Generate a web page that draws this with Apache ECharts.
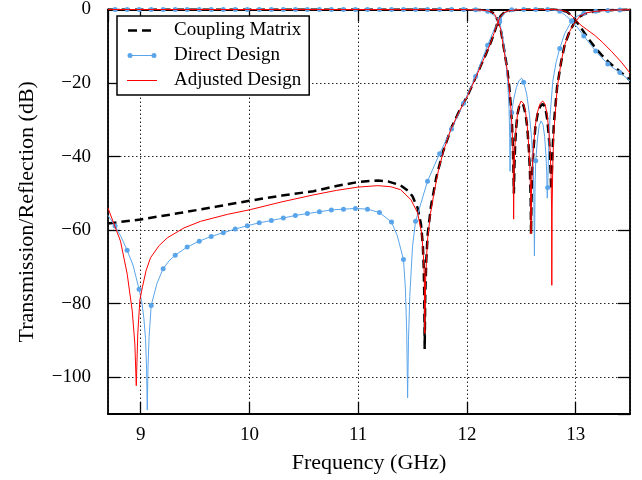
<!DOCTYPE html>
<html>
<head>
<meta charset="utf-8">
<script src="https://cdn.jsdelivr.net/npm/echarts@6/dist/echarts.min.js"></script>
<style>html,body{margin:0;padding:0;background:#fff}#c{width:642px;height:480px}</style>
</head>
<body>
<div id="c"></div>
<script>
// ---- data: [frequency GHz, dB] ----
const legendNames = ['Coupling Matrix', 'Direct Design', 'Adjusted Design'];

// Coupling matrix (black dashed)
const cmS21 = [[8.70,-58.2],[9.0,-57.1],[9.37,-55.3],[9.7,-53.6],[10.0,-52.0],[10.3,-50.6],[10.59,-49.4],[10.8,-48.0],[11.0,-46.9],[11.18,-46.5],[11.28,-46.8],[11.39,-47.8],[11.46,-49.3],[11.50,-50.8],[11.547,-54],[11.578,-58.4],[11.595,-64],[11.603,-70],[11.608,-77],[11.612,-92.3],[11.617,-78],[11.627,-68],[11.64,-61],[11.67,-53.5],[11.72,-45.5],[11.777,-39],[11.854,-32.4],[11.93,-27.6],[12.008,-23.3],[12.07,-19.2],[12.13,-15.1],[12.18,-11.8],[12.222,-8.8],[12.255,-6.0],[12.285,-3.3],[12.31,-1.8],[12.34,-0.9],[12.38,-0.4],[12.45,-0.1],[12.5,0],[12.8,0],[12.867,-0.2],[12.92,-0.6],[12.945,-1.2],[12.975,-2.0],[13.0,-3.0],[13.04,-4.6],[13.08,-6.3],[13.13,-8.4],[13.18,-10.4],[13.24,-12.4],[13.3,-14.2],[13.36,-15.7],[13.41,-16.9],[13.46,-18.2],[13.5,-19.2]];
const cmS11 = [[8.70,0],[12.0,-0.02],[12.13,-0.13],[12.18,-0.3],[12.222,-0.6],[12.255,-1.2],[12.285,-3.0],[12.31,-5.2],[12.343,-11.0],[12.37,-16.0],[12.39,-21.0],[12.405,-26.5],[12.415,-31.5],[12.423,-37.5],[12.428,-43],[12.432,-50],[12.437,-43],[12.443,-37.5],[12.452,-32.5],[12.465,-28.5],[12.48,-26.5],[12.5,-25.5],[12.52,-26],[12.54,-28.5],[12.555,-32],[12.57,-38],[12.58,-44],[12.587,-52],[12.59,-61],[12.594,-52],[12.60,-45],[12.612,-38],[12.63,-32],[12.65,-28.5],[12.675,-26.3],[12.698,-25.7],[12.72,-26.5],[12.74,-30],[12.755,-35],[12.765,-40.5],[12.772,-46],[12.775,-49],[12.779,-46],[12.787,-39],[12.8,-31],[12.83,-21],[12.867,-14.2],[12.9,-9.5],[12.943,-6.1],[12.975,-4.3],[13.0,-3.1],[13.04,-1.9],[13.08,-1.2],[13.13,-0.8],[13.2,-0.45],[13.3,-0.22],[13.4,-0.12],[13.5,-0.08]];

// Direct design (blue, markers)
const ddS21Marks = [[8.765,-58.9],[8.876,-65.5],[8.986,-76.1],[9.097,-80.5],[9.207,-70.5],[9.318,-66.8],[9.428,-64.6],[9.539,-63.0],[9.649,-61.7],[9.760,-60.7],[9.870,-59.7],[9.981,-58.8],[10.091,-58.0],[10.202,-57.4],[10.312,-56.7],[10.423,-56.0],[10.533,-55.5],[10.644,-55.0],[10.754,-54.5],[10.865,-54.3],[10.975,-54.1],[11.086,-54.3],[11.196,-55.2],[11.307,-57.8],[11.417,-68.0],[11.528,-57.6],[11.638,-46.7],[11.749,-39.2],[11.859,-32.5],[11.970,-25.5],[12.080,-18.2],[12.191,-9.7],[12.301,-2.8],[12.412,-0.1],[12.522,0],[12.633,0],[12.743,0],[12.854,-0.5],[12.964,-3.1],[13.075,-7.2],[13.185,-11.3],[13.296,-14.8],[13.406,-17.1]];
const ddS21Line = [[8.70,-56.0],[8.82,-61.8],[8.93,-69.5],[9.01,-79.4],[9.03,-84],[9.045,-89.5],[9.055,-98],[9.061,-108.9],[9.068,-97],[9.078,-89],[9.15,-74.5],[9.26,-68.4],[11.36,-61.5],[11.435,-76],[11.447,-88],[11.455,-105.6],[11.463,-90],[11.475,-78],[11.50,-64.5],[12.25,-5.5],[12.35,-0.9],[12.80,-0.2],[12.90,-1.4],[13.02,-5.0],[13.13,-9.3],[13.24,-13.1],[13.35,-16.0],[13.5,-19.4]];
const ddS11Marks = [[8.765,0],[8.876,0],[8.986,0],[9.097,0],[9.207,0],[9.318,0],[9.428,0],[9.539,0],[9.649,0],[9.760,0],[9.870,0],[9.981,0],[10.091,0],[10.202,0],[10.312,0],[10.423,0],[10.533,0],[10.644,0],[10.754,0],[10.865,0],[10.975,0],[11.086,0],[11.196,0],[11.307,0],[11.417,0],[11.528,0],[11.638,0],[11.749,0],[11.859,0],[11.970,0],[12.080,-0.1],[12.191,-0.5],[12.301,-3.3],[12.412,-28],[12.522,-19.8],[12.633,-41.1],[12.743,-48.4],[12.854,-10.6],[12.964,-3.1],[13.075,-1.0],[13.185,-0.5],[13.296,-0.25],[13.406,-0.15]];
const ddS11Line = [[8.70,0],[12.25,-1.6],[12.33,-7.5],[12.355,-13],[12.375,-19.5],[12.388,-27],[12.394,-35],[12.397,-44],[12.401,-35],[12.405,-31],[12.43,-24.5],[12.455,-21.2],[12.48,-19.3],[12.505,-18.7],[12.55,-23],[12.575,-28.5],[12.595,-35],[12.607,-41],[12.615,-48],[12.621,-67],[12.627,-48],[12.65,-35],[12.665,-31.6],[12.682,-30.3],[12.70,-31.3],[12.715,-34.5],[12.727,-39.5],[12.735,-45],[12.739,-51.3],[12.75,-40],[12.765,-29],[12.79,-19.5],[12.82,-14.4],[12.9,-6.5],[13.0,-2.0],[13.5,-0.1]];

// Adjusted design (red)
const adS21 = [[8.70,-54.0],[8.815,-63],[8.877,-72],[8.923,-82],[8.947,-91],[8.96,-102.3],[8.974,-88],[8.993,-79],[9.015,-75.7],[9.05,-71],[9.091,-67.5],[9.17,-64.2],[9.245,-62.1],[9.398,-59.4],[9.552,-57.6],[9.8,-55.7],[10.012,-54.4],[10.3,-52.3],[10.592,-50.4],[10.8,-49.2],[10.997,-48.3],[11.181,-47.9],[11.3,-48.2],[11.39,-49.0],[11.485,-51.7],[11.547,-55.3],[11.585,-61],[11.600,-67],[11.608,-72],[11.613,-88.1],[11.62,-74],[11.63,-67],[11.64,-62.1],[11.665,-55.5],[11.70,-49.5],[11.74,-43.5],[11.79,-38.0],[11.854,-32.5],[11.93,-27.7],[12.008,-23.4],[12.07,-19.3],[12.13,-15.2],[12.18,-11.8],[12.222,-8.8],[12.255,-6.0],[12.285,-3.4],[12.31,-1.9],[12.34,-0.9],[12.38,-0.4],[12.45,-0.1],[12.50,0],[12.80,0],[12.867,-0.2],[12.92,-0.6],[12.945,-1.2],[12.975,-2.0],[13.005,-3.0],[13.05,-4.3],[13.1,-5.4],[13.175,-7.0],[13.25,-9.0],[13.33,-11.4],[13.42,-14.3],[13.5,-17.3]];
const adS11 = [[8.70,0],[12.0,-0.02],[12.13,-0.13],[12.18,-0.3],[12.222,-0.6],[12.255,-1.3],[12.285,-3.1],[12.31,-5.3],[12.343,-11.4],[12.37,-16.3],[12.39,-21.3],[12.405,-27],[12.415,-32],[12.422,-37],[12.427,-43],[12.43,-57],[12.434,-44],[12.44,-38],[12.45,-33],[12.465,-28.6],[12.48,-26.2],[12.498,-24.9],[12.52,-25.5],[12.54,-28],[12.555,-31.5],[12.57,-37.5],[12.58,-43.5],[12.586,-50],[12.59,-61],[12.594,-50],[12.60,-44],[12.612,-37.5],[12.63,-31.5],[12.65,-27.8],[12.675,-25.5],[12.698,-24.9],[12.72,-25.8],[12.74,-29],[12.755,-33.5],[12.766,-38.5],[12.774,-45],[12.779,-54],[12.781,-75],[12.784,-54],[12.79,-42],[12.8,-33],[12.83,-21.5],[12.867,-14.2],[12.9,-9.6],[12.943,-6.1],[12.975,-4.3],[13.005,-3.1],[13.04,-1.8],[13.1,-0.9],[13.18,-0.5],[13.3,-0.2],[13.5,-0.05]];

// axis ranges / ticks
const xRange = [8.7, 13.5];
const yRange = [-110, 0];
const xStep = 1;
const yStep = 20;

// ---- build ----
const FONT = "'Liberation Serif', 'Times New Roman', serif";
const BLUE = '#5AA5EA';
const RED = '#ff0000';

function withMarks(line, marks) {
  const all = line.map(p => ({ value: p, symbol: 'none' }))
    .concat(marks.map(p => ({ value: p })));
  all.sort((a, b) => a.value[0] - b.value[0]);
  return all;
}

const chart = echarts.init(document.getElementById('c'), null, { renderer: 'canvas' });

function xAx(pos, main) {
  return {
    type: 'value', position: pos, min: xRange[0], max: xRange[1],
    minInterval: xStep, maxInterval: xStep,
    axisLine: { show: true, onZero: false, lineStyle: { color: '#000', width: 1.8 } },
    axisTick: { show: true, inside: true, length: 12, lineStyle: { color: '#000', width: 1.3 } },
    axisLabel: { show: main, margin: 12, fontSize: 19, color: '#000', fontFamily: FONT, showMinLabel: false, showMaxLabel: false },
    splitLine: { show: main, lineStyle: { color: '#222', width: 1, type: [1.5, 2.5] } },
    name: main ? 'Frequency (GHz)' : '', nameLocation: 'middle', nameGap: 38,
    nameTextStyle: { fontSize: 22, color: '#000', fontFamily: FONT }
  };
}
function yAx(pos, main) {
  return {
    type: 'value', position: pos, min: yRange[0], max: yRange[1],
    minInterval: yStep, maxInterval: yStep,
    axisLine: { show: true, onZero: false, lineStyle: { color: '#000', width: 1.8 } },
    axisTick: { show: true, inside: true, length: 12, lineStyle: { color: '#000', width: 1.3 } },
    axisLabel: { show: main, margin: 17, fontSize: 19, color: '#000', fontFamily: FONT, showMinLabel: false,
      formatter: v => (v < 0 ? '\u2212' + Math.abs(v) : String(v)) },
    splitLine: { show: main, lineStyle: { color: '#222', width: 1, type: [1.5, 2.5] } },
    name: main ? 'Transmission/Reflection (dB)' : '', nameLocation: 'middle', nameGap: 70,
    nameTextStyle: { fontSize: 22, color: '#000', fontFamily: FONT }
  };
}

const black = { color: '#000', width: 2.5, type: [8.5, 5] };
const series = [
  { name: legendNames[0], data: cmS21, symbol: 'none', lineStyle: black, itemStyle: { color: '#000' }, z: 2 },
  { name: legendNames[0], data: cmS11, symbol: 'none', lineStyle: black, itemStyle: { color: '#000' }, z: 2 },
  { name: legendNames[1], data: withMarks(ddS21Line, ddS21Marks), symbol: 'circle', symbolSize: 5, showAllSymbol: true,
    lineStyle: { color: BLUE, width: 1 }, itemStyle: { color: BLUE }, z: 3 },
  { name: legendNames[1], data: withMarks(ddS11Line, ddS11Marks), symbol: 'circle', symbolSize: 5, showAllSymbol: true,
    lineStyle: { color: BLUE, width: 1 }, itemStyle: { color: BLUE }, z: 3 },
  { name: legendNames[2], data: adS21, symbol: 'none', lineStyle: { color: RED, width: 1 }, itemStyle: { color: RED }, z: 4 },
  { name: legendNames[2], data: adS11, symbol: 'none', lineStyle: { color: RED, width: 1 }, itemStyle: { color: RED }, z: 4 }
].map(s => Object.assign({ type: 'line', xAxisIndex: 0, yAxisIndex: 0, animation: false, clip: true, smooth: false,
  emphasis: { disabled: true } }, s));

// legend glyphs (30 x 14 boxes, drawn as filled paths)
const iconDash = 'path://M0,0L30,0M0,14L30,14M1,5.7h9v2.6h-9zM15,5.7h9v2.6h-9z';
const iconMark = 'path://M0,0L30,0M0,14L30,14M4.5,6.5h21v1h-21zM0.5,7a2.5,2.5 0 1,1 5,0a2.5,2.5 0 1,1 -5,0zM24.5,7a2.5,2.5 0 1,1 5,0a2.5,2.5 0 1,1 -5,0z';
const iconLine = 'path://M0,0L30,0M0,14L30,14M0,6.5h30v1h-30z';

chart.setOption({
  animation: false,
  backgroundColor: '#fff',
  grid: { left: 108, right: 12, top: 8, bottom: 66, containLabel: false },
  xAxis: [xAx('bottom', true), xAx('top', false)],
  yAxis: [yAx('left', true), yAx('right', false)],
  legend: {
    data: [
      { name: legendNames[0], icon: iconDash, itemStyle: { color: '#000', borderWidth: 0 } },
      { name: legendNames[1], icon: iconMark, itemStyle: { color: BLUE, borderWidth: 0 } },
      { name: legendNames[2], icon: iconLine, itemStyle: { color: RED, borderWidth: 0 } }
    ],
    orient: 'vertical', left: 117, top: 16,
    padding: [5, 8, 5, 10], itemWidth: 30, itemHeight: 14, itemGap: 6,
    borderColor: '#000', borderWidth: 1.5, backgroundColor: '#fff', borderRadius: 0,
    itemStyle: { borderWidth: 0 }, lineStyle: { width: 0 },
    textStyle: { fontSize: 19, lineHeight: 19, color: '#000', fontFamily: FONT, padding: [0, 0, 0, 12] },
    selectedMode: false
  },
  series: series
});
</script>
</body>
</html>
